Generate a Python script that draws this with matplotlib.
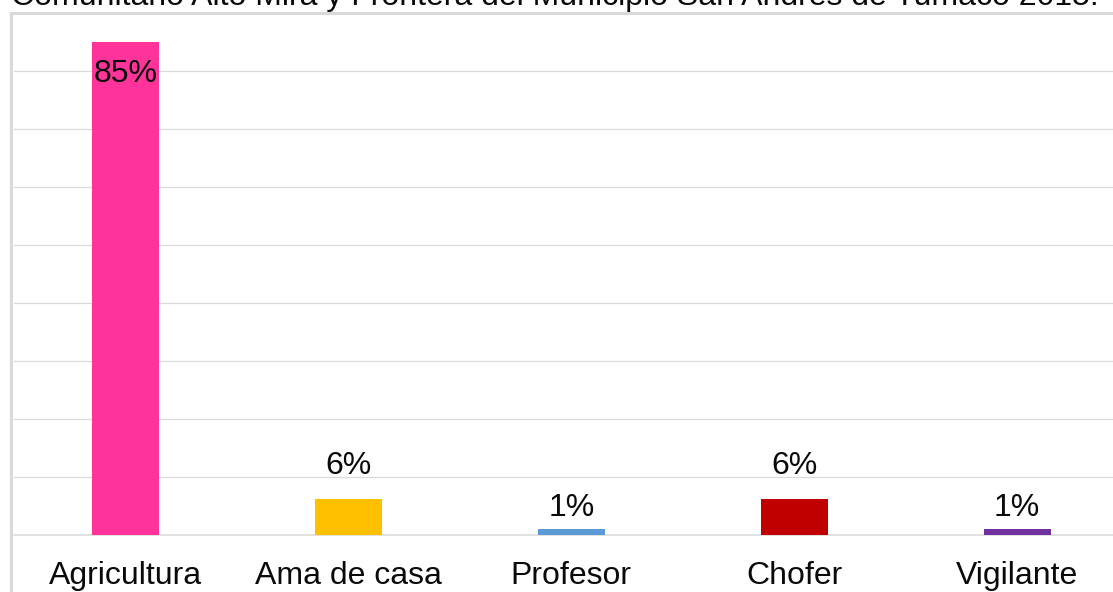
import matplotlib
matplotlib.use("Agg")
import matplotlib.pyplot as plt
from matplotlib.patches import Rectangle

# ---- data ----
categories = ["Agricultura", "Ama de casa", "Profesor", "Chofer", "Vigilante"]
values = [85.0, 6.2, 1.0, 6.2, 1.0]
value_labels = ["85%", "6%", "1%", "6%", "1%"]
title_text = "Comunitario Alto Mira y Frontera del Municipio San Andrés de Tumaco 2015."
ytick_values = [0, 10, 20, 30, 40, 50, 60, 70, 80]

# ---- style ----
bar_colors = ["#FF3399", "#FFC000", "#5B9BD5", "#C00000", "#7030A0"]
label_offsets_px = [-40, 24.7, 12.6, 24.7, 12.6]   # baseline offset from bar top
grid_color = "#d9d9d9"
text_color = "#0a0a0a"
font = "Liberation Sans"
fs = 23

W, H = 1113, 592
DPI = 100
fig = plt.figure(figsize=(W / DPI, H / DPI), dpi=DPI)
fig.patch.set_facecolor("white")

# axes placement (in pixels -> figure fraction)
x_left_px, x_right_px = 13.9, 1128.7
y_bottom_px, y_top_px = 534.8, 12.7
ax = fig.add_axes([x_left_px / W, (H - y_bottom_px) / H,
                   (x_right_px - x_left_px) / W, (y_bottom_px - y_top_px) / H])

x = list(range(len(categories)))
ax.bar(x, values, width=0.3, color=bar_colors, zorder=3)
ax.set_xlim(-0.5, len(categories) - 0.5)
ax.set_ylim(0, 90)

ax.set_yticks(ytick_values)
ax.yaxis.grid(True, color=grid_color, linewidth=0.9, zorder=0)
ax.axhline(0, color=grid_color, linewidth=1.1, clip_on=False, zorder=2)
ax.tick_params(axis="y", left=False, labelleft=False)
ax.set_xticks(x)
ax.set_xticklabels(categories, fontfamily=font, fontsize=fs, color=text_color)
ax.tick_params(axis="x", length=0, pad=19.0)
for s in ax.spines.values():
    s.set_visible(False)
ax.set_facecolor("none")

for xi, v, lab, off in zip(x, values, value_labels, label_offsets_px):
    ax.annotate(lab, xy=(xi, v), xytext=(0, off * 72 / DPI),
                textcoords="offset points", ha="center", va="baseline",
                fontfamily=font, fontsize=fs, color=text_color, zorder=4)

# chart frame (partly cropped)
frame = Rectangle((10.5 / W, -0.2), 1.3, (H - 12.5) / H + 0.2,
                  transform=fig.transFigure, fill=False,
                  edgecolor=grid_color, linewidth=2.2, clip_on=False)
fig.patches.append(frame)

# cropped title
fig.text(554.5 / W, (H - 5.4) / H, title_text, ha="center", va="baseline",
         fontfamily=font, fontsize=fs, color=text_color)

fig.savefig("out.png", dpi=DPI)
